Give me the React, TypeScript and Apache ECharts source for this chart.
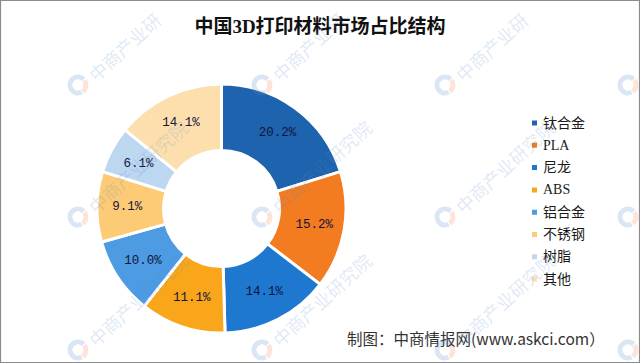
import React, { useEffect, useRef } from "react";
import * as echarts from "echarts";

const TITLE = "中国3D打印材料市场占比结构";
const SOURCE = "制图：中商情报网(www.askci.com）";
const WATERMARK = "中商产业研究院";

const categories = ["钛合金", "PLA", "尼龙", "ABS", "铝合金", "不锈钢", "树脂", "其他"];
const shares = [20.2, 15.2, 14.1, 11.1, 10.0, 9.1, 6.1, 14.1];
const colors = ["#1E63AE", "#F37B20", "#1E78D0", "#F9A61A", "#4C9BE3", "#FDCB75", "#BDD7F1", "#FDDFAE"];

const wmRows = [85, 217, 350];
const wmCols = [-105, 78, 262, 445, 628];

const CJK = "Liberation Serif, Noto Sans CJK SC, serif";

export default function App() {
  const ref = useRef<HTMLDivElement>(null);

  useEffect(() => {
    document.body.style.margin = "0";
    if (!ref.current) return;
    const chart = echarts.init(ref.current, undefined, { renderer: "svg" });

    const rot = 0.74;
    const dx = Math.cos(rot);
    const dy = -Math.sin(rot);
    const fs = 18;
    const watermarks: any[] = [];
    wmRows.forEach((y) => {
      wmCols.forEach((x) => {
        watermarks.push({
          type: "arc",
          z: 100,
          silent: true,
          shape: { cx: x, cy: y, r: 8, startAngle: Math.PI * 0.35, endAngle: Math.PI * 1.75 },
          style: { stroke: "rgba(90,140,205,0.22)", fill: "none", lineWidth: 5 },
        });
        watermarks.push({
          type: "arc",
          z: 100,
          silent: true,
          shape: { cx: x, cy: y, r: 8, startAngle: Math.PI * 1.8, endAngle: Math.PI * 2.3 },
          style: { stroke: "rgba(240,130,80,0.22)", fill: "none", lineWidth: 5 },
        });
        const sx = x + 13;
        const sy = y - 8;
        Array.from(WATERMARK).forEach((ch, i) => {
          const d = i * fs + fs / 2;
          const cx = sx + d * dx;
          const cy = sy + d * dy;
          if (cx < 11 || cx > 629 || cy < 11 || cy > 352) return;
          watermarks.push({
            type: "text",
            z: 100,
            silent: true,
            x: cx,
            y: cy,
            rotation: rot,
            style: {
              text: ch,
              fontSize: fs,
              fontFamily: "Noto Sans CJK SC, sans-serif",
              fill: "rgba(90,140,205,0.2)",
              textAlign: "center",
              textVerticalAlign: "middle",
            },
          });
        });
      });
    });

    chart.setOption({
      animation: false,
      backgroundColor: "#ffffff",
      color: colors,
      title: {
        text: TITLE,
        left: "center",
        top: 12,
        textStyle: {
          fontSize: 19,
          fontWeight: "bold",
          fontFamily: CJK,
          color: "#111",
        },
      },
      legend: {
        orient: "vertical",
        left: 525,
        top: 111,
        itemWidth: 7,
        itemHeight: 7,
        itemGap: 8.3,
        icon: "rect",
        data: categories,
        textStyle: {
          fontSize: 14,
          lineHeight: 14,
          fontFamily: CJK,
          color: "#1a1a1a",
        },
      },
      graphic: [
        {
          type: "rect",
          z: 101,
          silent: true,
          shape: { x: 0.5, y: 0.5, width: 639, height: 362 },
          style: { fill: "none", stroke: "#8c8c8c", lineWidth: 1.2 },
        },
        {
          type: "text",
          z: 50,
          x: 347,
          y: 338,
          style: {
            text: SOURCE,
            fontSize: 15.5,
            fontFamily: "Noto Sans CJK SC, sans-serif",
            fill: "#333",
            textAlign: "left",
            textVerticalAlign: "middle",
          },
        },
        ...watermarks,
      ],
      series: [
        {
          type: "pie",
          center: [221.5, 208.5],
          radius: [58, 124.5],
          startAngle: 90,
          clockwise: true,
          avoidLabelOverlap: false,
          itemStyle: { borderColor: "#ffffff", borderWidth: 3 },
          label: {
            show: true,
            position: "inside",
            formatter: (p: any) => Number(p.value).toFixed(1) + "%",
            fontSize: 12.5,
            fontFamily: "Liberation Mono, DejaVu Sans Mono, monospace",
            color: "#14143a",
          },
          labelLine: { show: false },
          emphasis: { disabled: true },
          data: categories.map((name, i) => ({ name, value: shares[i] })),
        },
      ],
    });

    return () => chart.dispose();
  }, []);

  return <div ref={ref} style={{ width: 640, height: 363 }} />;
}
